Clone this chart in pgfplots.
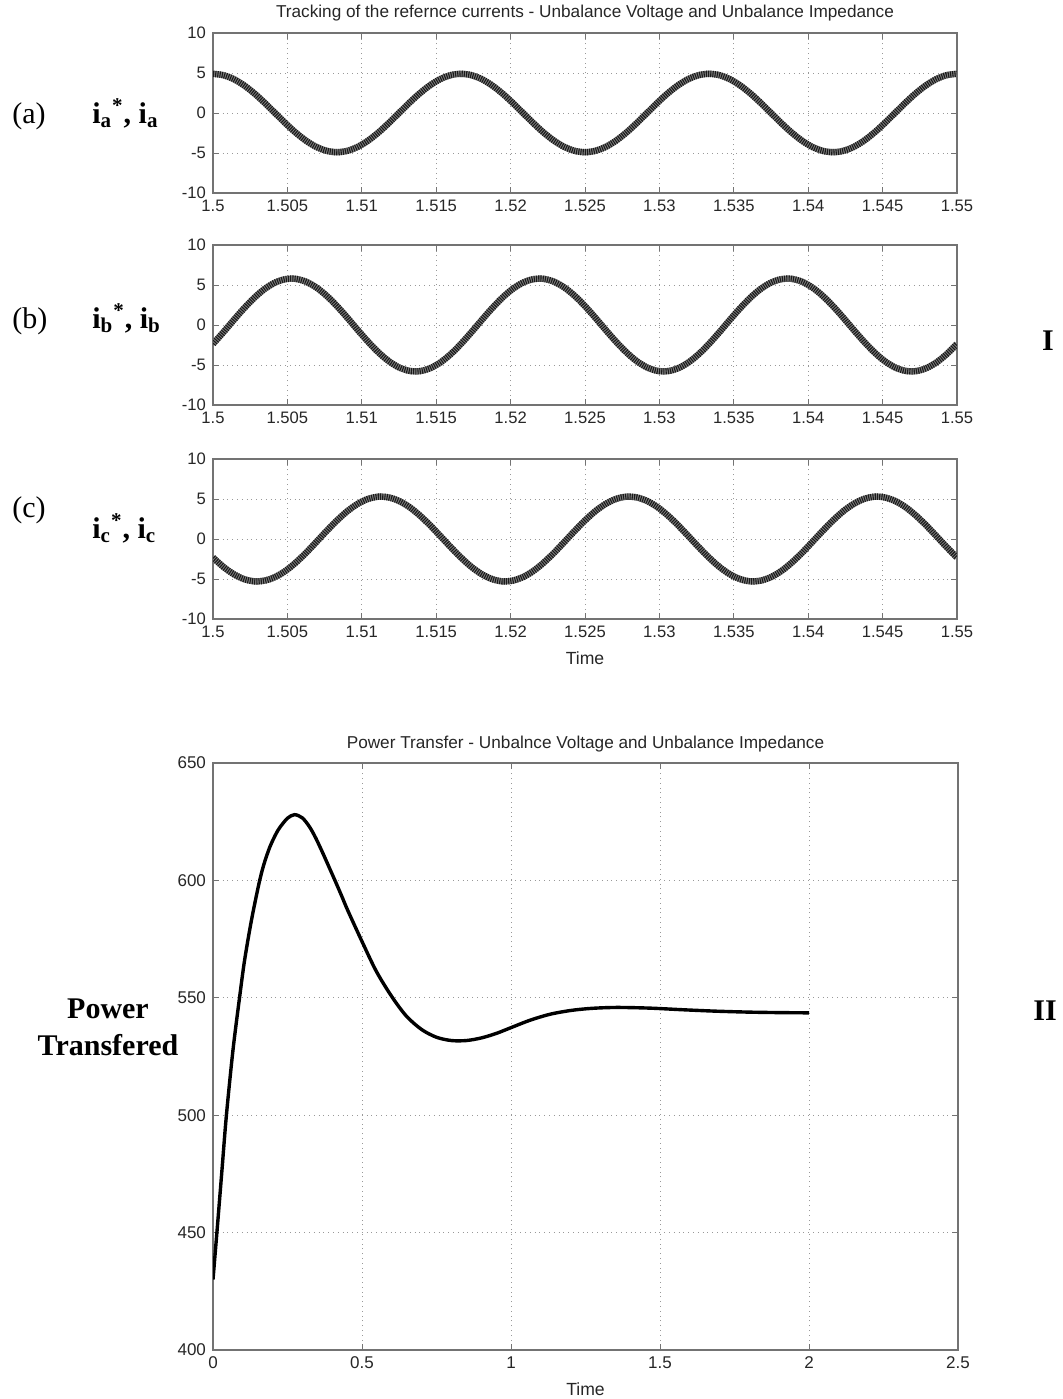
\documentclass[border=0pt]{standalone}
\usepackage{pgfplots}
\pgfplotsset{compat=1.18}
\usepackage{pgfplotstable}
\usepackage{fontspec}
\setmainfont{Liberation Serif}
\newfontfamily\arial{Liberation Sans}

% phase currents a, b, c over three 60 Hz cycles
\pgfplotstableread{
t        ia     ib     ic
1.500000  4.90  -2.36  -2.32
1.500694  4.73  -0.91  -3.48
1.501389  4.24   0.61  -4.39
1.502083  3.46   2.08  -5.01
1.502778  2.45   3.41  -5.29
1.503472  1.27   4.51  -5.20
1.504167  0.00   5.30  -4.76
1.504861 -1.27   5.73  -4.00
1.505556 -2.45   5.77  -2.96
1.506250 -3.46   5.41  -1.73
1.506944 -4.24   4.69  -0.37
1.507639 -4.73   3.65   1.01
1.508333 -4.90   2.36   2.32
1.509028 -4.73   0.91   3.48
1.509722 -4.24  -0.61   4.39
1.510417 -3.46  -2.08   5.01
1.511111 -2.45  -3.41   5.29
1.511806 -1.27  -4.51   5.20
1.512500  0.00  -5.30   4.76
1.513194  1.27  -5.73   4.00
1.513889  2.45  -5.77   2.96
1.514583  3.46  -5.41   1.73
1.515278  4.24  -4.69   0.37
1.515972  4.73  -3.65  -1.01
1.516667  4.90  -2.36  -2.32
1.517361  4.73  -0.91  -3.48
1.518056  4.24   0.61  -4.39
1.518750  3.46   2.08  -5.01
1.519444  2.45   3.41  -5.29
1.520139  1.27   4.51  -5.20
1.520833  0.00   5.30  -4.76
1.521528 -1.27   5.73  -4.00
1.522222 -2.45   5.77  -2.96
1.522917 -3.46   5.41  -1.73
1.523611 -4.24   4.69  -0.37
1.524306 -4.73   3.65   1.01
1.525000 -4.90   2.36   2.32
1.525694 -4.73   0.91   3.48
1.526389 -4.24  -0.61   4.39
1.527083 -3.46  -2.08   5.01
1.527778 -2.45  -3.41   5.29
1.528472 -1.27  -4.51   5.20
1.529167  0.00  -5.30   4.76
1.529861  1.27  -5.73   4.00
1.530556  2.45  -5.77   2.96
1.531250  3.46  -5.41   1.73
1.531944  4.24  -4.69   0.37
1.532639  4.73  -3.65  -1.01
1.533333  4.90  -2.36  -2.32
1.534028  4.73  -0.91  -3.48
1.534722  4.24   0.61  -4.39
1.535417  3.46   2.08  -5.01
1.536111  2.45   3.41  -5.29
1.536806  1.27   4.51  -5.20
1.537500  0.00   5.30  -4.76
1.538194 -1.27   5.73  -4.00
1.538889 -2.45   5.77  -2.96
1.539583 -3.46   5.41  -1.73
1.540278 -4.24   4.69  -0.37
1.540972 -4.73   3.65   1.01
1.541667 -4.90   2.36   2.32
1.542361 -4.73   0.91   3.48
1.543056 -4.24  -0.61   4.39
1.543750 -3.46  -2.08   5.01
1.544444 -2.45  -3.41   5.29
1.545139 -1.27  -4.51   5.20
1.545833  0.00  -5.30   4.76
1.546528  1.27  -5.73   4.00
1.547222  2.45  -5.77   2.96
1.547917  3.46  -5.41   1.73
1.548611  4.24  -4.69   0.37
1.549306  4.73  -3.65  -1.01
1.550000  4.90  -2.36  -2.32
}\currents

% transferred power
\pgfplotstableread{
t      P
0.000  430.0
0.015  453.0
0.030  476.5
0.045  500.0
0.067  527.7
0.089  550.0
0.106  566.0
0.129  583.0
0.154  598.5
0.170  606.5
0.190  614.0
0.210  619.5
0.224  622.5
0.250  626.5
0.274  628.0
0.300  626.6
0.324  622.8
0.345  618.0
0.369  611.5
0.390  605.5
0.412  599.2
0.433  593.0
0.453  587.0
0.500  574.0
0.548  561.3
0.600  550.5
0.649  542.2
0.700  536.5
0.750  533.2
0.800  531.8
0.850  531.8
0.900  532.9
0.950  534.8
1.000  537.3
1.065  540.5
1.131  543.0
1.200  544.6
1.270  545.5
1.355  545.9
1.467  545.6
1.579  544.9
1.690  544.3
1.800  543.9
1.900  543.7
2.000  543.6
}\power

\pgfplotsset{
  mlab/.style={
    scale only axis,
    axis line style={draw=black!55, line width=0.6pt},
    tick align=inside,
    major tick length=3pt,
    tick style={draw=black!55, line width=0.5pt},
    grid=major,
    major grid style={dotted, black!40, line width=0.45pt},
    ticklabel style={font=\arial\fontsize{8.3}{9}\selectfont, text=black!85},
    /pgf/number format/assume math mode=true,
    xlabel style={font=\arial\fontsize{8.8}{10}\selectfont, text=black!85},
    title style={font=\arial\fontsize{8.6}{10}\selectfont, text=black!85},
  },
  cur/.style={
    mlab, width=372pt, height=80pt,
    xmin=1.5, xmax=1.55, ymin=-10, ymax=10,
    xtick={1.5,1.505,1.51,1.515,1.52,1.525,1.53,1.535,1.54,1.545,1.55},
    xticklabels={1.5,1.505,1.51,1.515,1.52,1.525,1.53,1.535,1.54,1.545,1.55},
    ytick={-10,-5,0,5,10},
  },
  waveback/.style={line width=3.2pt, black!50, smooth, line join=round},
  wavefront/.style={line width=3.2pt, black!90, smooth, dash pattern=on 0.55pt off 0.55pt},
}

\begin{document}
\begin{tikzpicture}
\useasboundingbox (0,0) rectangle (531.5pt,-699.5pt);

% (a)
\begin{axis}[cur, at={(106.5pt,-16.5pt)}, anchor=north west,
  title={Tracking of the refernce currents - Unbalance Voltage and Unbalance Impedance},
  title style={yshift=-3.5pt}]
  \addplot[waveback] table[x=t, y=ia] {\currents};
  \addplot[wavefront] table[x=t, y=ia] {\currents};
\end{axis}

% (b)
\begin{axis}[cur, at={(106.5pt,-122.5pt)}, anchor=north west]
  \addplot[waveback] table[x=t, y=ib] {\currents};
  \addplot[wavefront] table[x=t, y=ib] {\currents};
\end{axis}

% (c)
\begin{axis}[cur, at={(106.5pt,-229.5pt)}, anchor=north west, xlabel={Time}]
  \addplot[waveback] table[x=t, y=ic] {\currents};
  \addplot[wavefront] table[x=t, y=ic] {\currents};
\end{axis}

% power
\begin{axis}[mlab, width=372.5pt, height=293.5pt,
  at={(106.5pt,-381.5pt)}, anchor=north west,
  xmin=0, xmax=2.5, ymin=400, ymax=650,
  xtick={0,0.5,1,1.5,2,2.5}, xticklabels={0,0.5,1,1.5,2,2.5},
  ytick={400,450,500,550,600,650},
  ticklabel style={font=\arial\fontsize{8.5}{9}\selectfont},
  xlabel={Time},
  title={Power Transfer - Unbalnce Voltage and Unbalance Impedance},
  title style={yshift=-4pt}]
  \addplot[line width=1.7pt, black, smooth] table[x=t, y=P] {\power};
\end{axis}

% row labels
\begin{scope}[every node/.style={font=\fontsize{15}{17}\selectfont, inner sep=0pt}]
  \node[anchor=base west] at (6pt,-61.5pt) {(a)};
  \node[anchor=base west, font=\bfseries\fontsize{15}{17}\selectfont] at (46pt,-61.5pt)
    {i\textsubscript{a}\textsuperscript{*}, i\textsubscript{a}};
  \node[anchor=base west] at (6pt,-164pt) {(b)};
  \node[anchor=base west, font=\bfseries\fontsize{15}{17}\selectfont] at (46pt,-164pt)
    {i\textsubscript{b}\textsuperscript{*}, i\textsubscript{b}};
  \node[anchor=base west] at (6pt,-258.5pt) {(c)};
  \node[anchor=base west, font=\bfseries\fontsize{15}{17}\selectfont] at (46pt,-269pt)
    {i\textsubscript{c}\textsuperscript{*}, i\textsubscript{c}};
  \node[anchor=base, font=\bfseries\fontsize{15}{17}\selectfont] at (524pt,-175pt) {I};
  \node[anchor=base, font=\bfseries\fontsize{15}{17}\selectfont] at (522.5pt,-510pt) {II};
  \node[anchor=base, align=center, font=\bfseries\fontsize{15}{18.5}\selectfont] at (54pt,-527.5pt)
    {Power\\Transfered};
\end{scope}
\end{tikzpicture}
\end{document}
